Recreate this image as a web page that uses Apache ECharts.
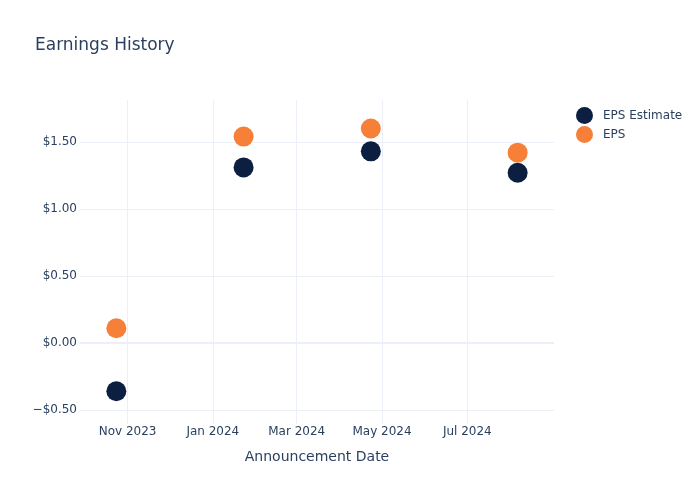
<!DOCTYPE html>
<html>
<head>
<meta charset="utf-8">
<script src="https://cdn.jsdelivr.net/npm/echarts@6/dist/echarts.min.js"></script>
<style>html,body{margin:0;padding:0;background:#fff;}#c{width:700px;height:500px;}</style>
</head>
<body>
<div id="c"></div>
<script>
var dates = ['2023-10-24', '2024-01-23', '2024-04-23', '2024-08-06'];
var epsEstimate = [-0.36, 1.31, 1.43, 1.27];
var eps = [0.11, 1.54, 1.60, 1.42];
var xTicks = ['2023-11-01', '2024-01-01', '2024-03-01', '2024-05-01', '2024-07-01'];
var yTicks = [-0.5, 0, 0.5, 1, 1.5];
var months = ['Jan','Feb','Mar','Apr','May','Jun','Jul','Aug','Sep','Oct','Nov','Dec'];

var font = 'DejaVu Sans, Verdana, sans-serif';
var txt = '#2a3f5f';
function ts(s){ return new Date(s + 'T00:00:00Z').getTime(); }
function pair(xs, ys){ return xs.map(function(d,i){ return [ts(d), ys[i]]; }); }
var xTickVals = xTicks.map(ts);

var chart = echarts.init(document.getElementById('c'), null, {renderer:'canvas'});
chart.setOption({
  animation: false,
  backgroundColor: '#fff',
  title: { text: 'Earnings History', left: 30, top: 32, textStyle: { fontFamily: font, fontSize: 17, fontWeight: 'normal', color: txt } },
  legend: {
    orient: 'vertical', left: 571, top: 102, icon: 'circle', itemWidth: 17, itemHeight: 17, itemGap: 2,
    textStyle: { fontFamily: font, fontSize: 12, color: txt, padding: [0,0,0,5] },
    data: ['EPS Estimate', 'EPS']
  },
  grid: { left: 80, right: 146, top: 100, bottom: 76, containLabel: false },
  xAxis: {
    type: 'value',
    min: ts('2023-09-28'),
    max: ts('2024-09-01'),
    name: 'Announcement Date', nameLocation: 'middle', nameGap: 26,
    nameTextStyle: { fontFamily: font, fontSize: 14, color: txt },
    axisLine: { show: false },
    axisTick: { show: false, customValues: xTickVals },
    axisLabel: {
      customValues: xTickVals, fontFamily: font, fontSize: 12, color: txt, margin: 2,
      formatter: function(v){ var d = new Date(v); return months[d.getUTCMonth()] + ' ' + d.getUTCFullYear(); }
    },
    splitLine: { show: true, lineStyle: { color: '#ebf0f8', width: 1 } }
  },
  yAxis: {
    type: 'value', min: -0.604, max: 1.813,
    axisLine: { show: false },
    axisTick: { show: false, customValues: yTicks },
    axisLabel: {
      customValues: yTicks, fontFamily: font, fontSize: 12, color: txt, margin: 3,
      formatter: function(v){ return (v < 0 ? '\u2212$' : '$') + Math.abs(v).toFixed(2); }
    },
    splitLine: { show: true, lineStyle: { color: '#ebf0f8', width: 1 } }
  },
  series: [
    {
      name: 'EPS Estimate', type: 'scatter', symbolSize: 20,
      itemStyle: { color: '#0c1f40', opacity: 1 },
      data: pair(dates, epsEstimate),
      markLine: { silent: true, symbol: 'none', label: { show: false }, lineStyle: { color: '#ebf0f8', width: 2, type: 'solid' }, data: [{ yAxis: 0 }], z: 1 }
    },
    {
      name: 'EPS', type: 'scatter', symbolSize: 20,
      itemStyle: { color: '#f68038', opacity: 1 },
      data: pair(dates, eps)
    }
  ]
});
</script>
</body>
</html>
